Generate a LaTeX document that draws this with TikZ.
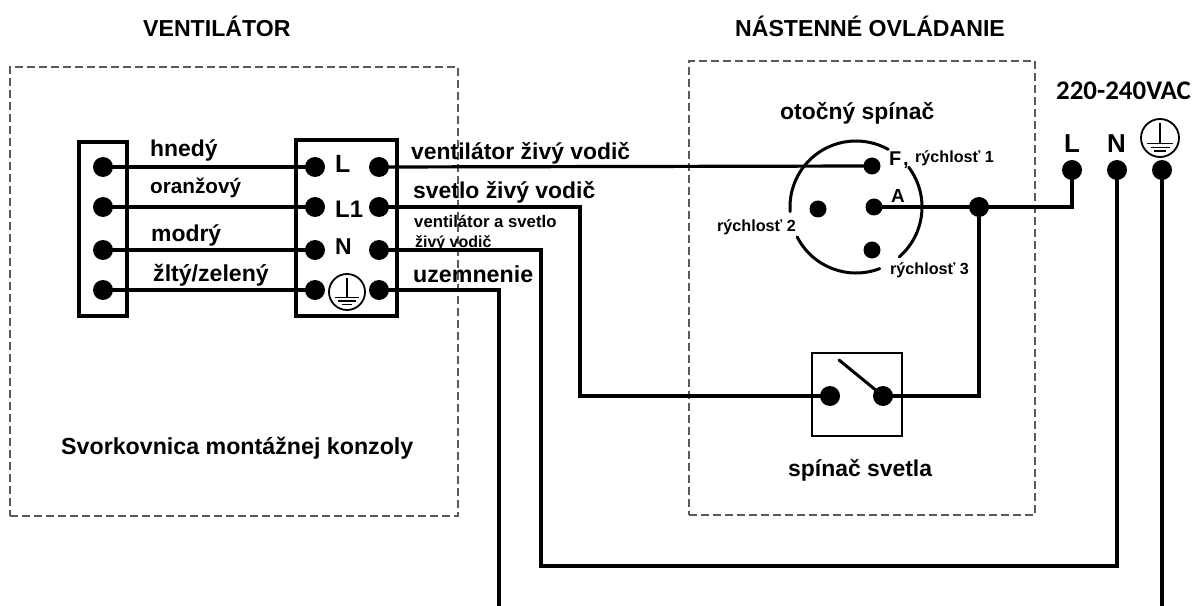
\documentclass[tikz,border=0pt]{standalone}
\usepackage{fontspec}
\setmainfont{Liberation Sans}
\newfontfamily\calib{Carlito}
\newcommand{\fs}[1]{\fontsize{#1}{#1}\selectfont\bfseries}
\tikzset{
  x=1bp,y=-1bp,
  wire/.style={line width=3.2bp,line join=miter,black},
  frame/.style={line width=3.4bp,draw=black,fill=none},
  dashbox/.style={line width=1.5bp,draw=black!65,dash pattern=on 8bp off 4bp},
  dot/.style={circle,fill=black,inner sep=0pt,minimum size=20bp},
  smalldot/.style={circle,fill=black,inner sep=0pt,minimum size=17bp},
  lab/.style={inner sep=0pt,anchor=base west,text=black},
}
\newcommand{\earth}[3]{%
  \draw[line width=1.8bp] (#1,#2) circle[radius=#3 bp];
  \draw[line width=1.3bp] (#1,#2-#3*0.8) -- (#1,#2+#3*0.3);
  \draw[line width=1.6bp] (#1-#3*0.68,#2+#3*0.3) -- (#1+#3*0.68,#2+#3*0.3);
  \draw[line width=1.6bp] (#1-#3*0.5,#2+#3*0.5) -- (#1+#3*0.5,#2+#3*0.5);
  \draw[line width=1.6bp] (#1-#3*0.3,#2+#3*0.7) -- (#1+#3*0.3,#2+#3*0.7);
}
\begin{document}
\begin{tikzpicture}
\useasboundingbox (0,0) rectangle (1201,606);
% dashed enclosures
\node[dashbox,draw,rectangle,inner sep=0pt,minimum width=448bp,minimum height=449bp] (fanbox) at (234,291.5) {};
\node[dashbox,draw,rectangle,inner sep=0pt,minimum width=346bp,minimum height=454bp] (wallbox) at (862,288) {};
% terminal blocks
\node[frame,draw,rectangle,inner sep=0pt,minimum width=48bp,minimum height=174bp] (blockA) at (103,229) {};
\node[frame,draw,rectangle,inner sep=0pt,minimum width=101bp,minimum height=176bp] (blockB) at (346.5,228) {};
% switch box
\node[draw,rectangle,line width=2bp,inner sep=0pt,minimum width=90bp,minimum height=83bp] (swbox) at (857,394.5) {};
% rotary outline (y axis points down, so angles run clockwise on the page)
\draw[line width=3bp,line cap=round] (856,207) ++(-37:66) arc[start angle=-37,end angle=49,radius=66];
\draw[line width=3bp,line cap=round] (856,207) ++(69:66) arc[start angle=69,end angle=153,radius=66];
\draw[line width=3bp,line cap=round] (856,207) ++(-184:66) arc[start angle=-184,end angle=-60.7,radius=66];
% dots
\foreach \n/\y in {1/167,2/207,3/250,4/290}{
  \node[dot] (a\n) at (103,\y) {};
  \node[dot] (b\n) at (315,\y) {};
  \node[dot] (c\n) at (379,\y) {};
}
\node[smalldot] (F) at (872,166) {};
\node[smalldot] (A) at (874,207) {};
\node[smalldot] (S2) at (818,209) {};
\node[smalldot] (S3) at (872,250) {};
\node[dot] (J) at (979,207) {};
\node[dot] (SL) at (830,396) {};
\node[dot] (SR) at (883,396) {};
\node[dot] (PL) at (1072,170) {};
\node[dot] (PN) at (1117,170) {};
\node[dot] (PE) at (1162,170) {};
% free ends and bends
\coordinate (k2a) at (580,207);
\coordinate (k2b) at (580,396);
\coordinate (k3a) at (541,250);
\coordinate (k3b) at (541,566);
\coordinate (k3c) at (1117,566);
\coordinate (k4a) at (499,290);
\coordinate (k4b) at (499,606);
\coordinate (k5) at (1162,606);
\coordinate (k6) at (1072,207);
\coordinate (k7) at (979,396);
\coordinate (lever) at (839,360);
% wires
\foreach \n in {1,2,3,4}{ \draw[wire] (a\n.center) -- (b\n.center); }
\draw[wire] (c1.center) -- (F.center);
\draw[wire] (c2.center) -- (k2a) -- (k2b) -- (SL.center);
\draw[wire] (c3.center) -- (k3a) -- (k3b) -- (k3c) -- (PN.center);
\draw[wire] (c4.center) -- (k4a) -- (k4b);
\draw[wire] (PE.center) -- (k5);
\draw[wire] (A.center) -- (k6) -- (PL.center);
\draw[wire] (J.center) -- (k7) -- (SR.center);
\draw[line width=3bp,line cap=round] (lever) -- (SR.center);
% left-side labels
\node[lab,font=\fs{23}] (t1) at (150,157) {hnedý};
\node[lab,font=\fs{20.8}] (t2) at (150,194) {oranžový};
\node[lab,font=\fs{23}] (t3) at (151,242) {modrý};
\node[lab,font=\fs{23.2}] (t4) at (153,282) {žltý/zelený};
\node[lab,font=\fs{25}] (tL) at (335,173) {L};
\node[lab,font=\fs{24}] (tL1) at (335,218) {L1};
\node[lab,font=\fs{23}] (tN) at (335,255) {N};
\earth{347}{292}{18}
\node[lab,font=\fs{23}] (w1) at (411,160) {ventilátor živý vodič};
\node[lab,font=\fs{23}] (w2) at (413,199) {svetlo živý vodič};
\node[lab,font=\fs{16.8}] (w3) at (414,228) {ventilátor a svetlo};
\node[lab,font=\fs{16}] (w3b) at (415,248) {živý vodič};
\node[lab,font=\fs{23.3}] (w4) at (413,283) {uzemnenie};
\node[lab,font=\fs{23.3}] (cap) at (61,454) {Svorkovnica montážnej konzoly};
\node[lab,font=\fs{23.2}] (h1) at (143,37) {VENTILÁTOR};
\node[lab,font=\fs{23.2}] (h2) at (735,37) {NÁSTENNÉ OVLÁDANIE};
\node[lab,font=\fs{23}] (h3) at (780,120) {otočný spínač};
\node[lab,font=\fs{23}] (h4) at (788,476) {spínač svetla};
\node[lab,font=\fs{20}] (tF) at (889,166) {F};
\node[lab,font=\fs{20}] (tF2) at (903,166) {,};
\node[lab,font=\fs{19}] (tA) at (891,203) {A};
\node[lab,font=\fs{16.2}] (r1) at (915,163) {rýchlosť 1};
\node[lab,font=\fs{16.2}] (r2) at (717,232) {rýchlosť 2};
\node[lab,font=\fs{16.2}] (r3) at (890,275) {rýchlosť 3};
\node[lab,font=\calib\fs{27}] (v) at (1056,100) {220-240VAC};
\node[lab,font=\fs{26}] (pL) at (1064,153) {L};
\node[lab,font=\fs{26}] (pN) at (1107,153) {N};
\earth{1160}{138}{19}
\end{tikzpicture}
\end{document}
